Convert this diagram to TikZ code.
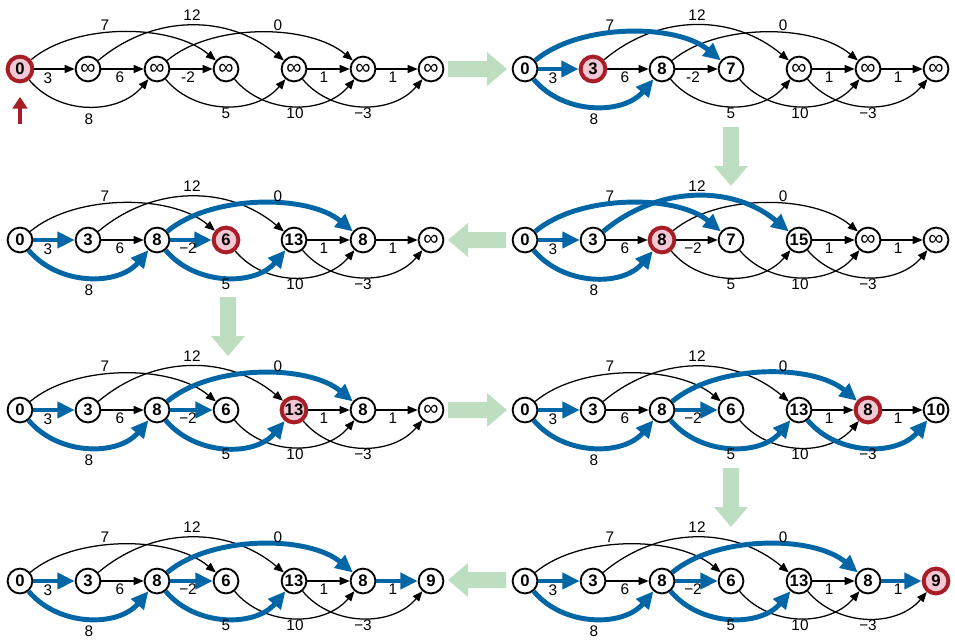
\documentclass[tikz,border=0pt]{standalone}
\usepackage{fontspec}
\setmainfont{Liberation Sans}
\usetikzlibrary{arrows.meta}
\definecolor{eblue}{RGB}{0,102,166}
\definecolor{hred}{RGB}{168,30,38}
\definecolor{hpink}{RGB}{242,200,212}
\definecolor{garrow}{RGB}{190,222,194}
\tikzset{
  nd/.style={circle, draw=black, line width=1.4pt, fill=white, minimum size=18.6pt, inner sep=0pt,
    font=\fontsize{12.5}{13}\selectfont\bfseries},
  hl/.style={draw=hred, fill=hpink, line width=3pt},
  lbl/.style={font=\fontsize{11.5}{12}\selectfont, inner sep=0pt},
  blackedge/.style={draw=black, line width=0.95pt, -{Triangle[length=7.5pt,width=6pt]}},
  blueedge/.style={draw=eblue, line width=3.7pt, -{Triangle[length=13pt,width=12pt]}},
  plain/.style={},
  gar/.style={fill=garrow, draw=none},
  redarrow/.style={draw=hred, line width=3pt, -{Triangle[length=9pt,width=11pt]}, shorten >=10pt},
}
\newcommand\infy{{\mdseries\fontsize{16}{16}\selectfont ∞}}
\newcommand\edgepass[2]{%
  \path[#2,#1e01/.try] (#1n0) -- (#1n1);
  \path[#2,#1e12/.try] (#1n1) -- (#1n2);
  \path[#2,#1e23/.try] (#1n2) -- (#1n3);
  \path[#2,#1e45/.try] (#1n4) -- (#1n5);
  \path[#2,#1e56/.try] (#1n5) -- (#1n6);
  \path[#2,#1e03/.try] (#1n0) to[out=40,in=140,looseness=0.8] (#1n3);
  \path[#2,#1e14/.try] (#1n1) to[out=40,in=140] (#1n4);
  \path[#2,#1e25/.try] (#1n2) to[out=40,in=140,looseness=0.8] (#1n5);
  \path[#2,#1e02/.try] (#1n0) to[out=-50,in=-130] (#1n2);
  \path[#2,#1e24/.try] (#1n2) to[out=-50,in=-130] (#1n4);
  \path[#2,#1e35/.try] (#1n3) to[out=-50,in=-130] (#1n5);
  \path[#2,#1e46/.try] (#1n4) to[out=-50,in=-130] (#1n6);
}
\newcommand\mtwo{-2}
\newcommand\graphpanel[9]{%
  \begin{scope}[shift={(#2)}]
    \node[nd,#1n0/.try] (#1n0) at (0,0) {#3};
    \node[nd,#1n1/.try] (#1n1) at (68,0) {#4};
    \node[nd,#1n2/.try] (#1n2) at (137,0) {#5};
    \node[nd,#1n3/.try] (#1n3) at (206,0) {#6};
    \node[nd,#1n4/.try] (#1n4) at (274,0) {#7};
    \node[nd,#1n5/.try] (#1n5) at (343,0) {#8};
    \node[nd,#1n6/.try] (#1n6) at (411,0) {#9};
    \tikzset{isblue/.style={draw=none}}
    \edgepass{#1}{blackedge}
    \tikzset{isblue/.style={blueedge}}
    \edgepass{#1}{plain}
    \node[lbl] (#1L01) at (28,-9) {3};
    \node[lbl] (#1L12) at (100,-8) {6};
    \node[lbl] (#1L23) at (168,-8) {\mtwo};
    \node[lbl] (#1L45) at (304,-8) {1};
    \node[lbl] (#1L56) at (373,-8) {1};
    \node[lbl] (#1L03) at (85,44) {7};
    \node[lbl] (#1L14) at (172,54) {12};
    \node[lbl] (#1L25) at (258,44) {0};
    \node[lbl] (#1L02) at (69,-50) {8};
    \node[lbl] (#1L24) at (206,-44) {5};
    \node[lbl] (#1L35) at (275,-44) {10};
    \node[lbl] (#1L46) at (343,-44) {−3};
  \end{scope}}
\begin{document}
\begin{tikzpicture}[x=0.75pt,y=0.75pt]
\useasboundingbox (0,0) rectangle (955,-639);
% green block arrows
\fill[gar] (448,-61) -- (487,-61) -- (487,-52) -- (507,-69) -- (487,-86) -- (487,-77) -- (448,-77) -- cycle;
\fill[gar] (723,-127) -- (723,-166) -- (714,-166) -- (731,-186) -- (748,-166) -- (739,-166) -- (739,-127) -- cycle;
\fill[gar] (506,-232) -- (468,-232) -- (468,-223) -- (448,-240) -- (468,-257) -- (468,-248) -- (506,-248) -- cycle;
\fill[gar] (220,-297) -- (220,-336) -- (211,-336) -- (228,-356) -- (245,-336) -- (236,-336) -- (236,-297) -- cycle;
\fill[gar] (448,-402) -- (487,-402) -- (487,-393) -- (507,-410) -- (487,-427) -- (487,-418) -- (448,-418) -- cycle;
\fill[gar] (723,-468) -- (723,-507) -- (714,-507) -- (731,-527) -- (748,-507) -- (739,-507) -- (739,-468) -- cycle;
\fill[gar] (506,-572) -- (468,-572) -- (468,-563) -- (448,-580) -- (468,-597) -- (468,-588) -- (506,-588) -- cycle;
% panel 1
\tikzset{Pan0/.style=hl}
\graphpanel{Pa}{20,-69}{0}{\infy}{\infy}{\infy}{\infy}{\infy}{\infy}
\coordinate (redstart) at (20,-124);
\draw[redarrow] (redstart) -- (Pan0);
% panel 2
\tikzset{Pbn1/.style=hl, Pbe01/.style=isblue, Pbe02/.style=isblue, Pbe03/.style=isblue}
\graphpanel{Pb}{525,-69}{0}{3}{8}{7}{\infy}{\infy}{\infy}
\renewcommand\mtwo{−2}
% panel 3
\tikzset{Pcn2/.style=hl, Pce01/.style=isblue, Pce02/.style=isblue, Pce03/.style=isblue, Pce14/.style=isblue}
\graphpanel{Pc}{525,-240}{0}{3}{8}{7}{15}{\infy}{\infy}
% panel 4
\tikzset{Pdn3/.style=hl, Pde01/.style=isblue, Pde02/.style=isblue, Pde23/.style=isblue, Pde24/.style=isblue, Pde25/.style=isblue}
\graphpanel{Pd}{20,-240}{0}{3}{8}{6}{13}{8}{\infy}
% panel 5
\tikzset{Pen4/.style=hl, Pee01/.style=isblue, Pee02/.style=isblue, Pee23/.style=isblue, Pee24/.style=isblue, Pee25/.style=isblue}
\graphpanel{Pe}{20,-410}{0}{3}{8}{6}{13}{8}{\infy}
% panel 6
\tikzset{Pfn5/.style=hl, Pfe01/.style=isblue, Pfe02/.style=isblue, Pfe23/.style=isblue, Pfe24/.style=isblue, Pfe25/.style=isblue, Pfe46/.style=isblue}
\graphpanel{Pf}{525,-410}{0}{3}{8}{6}{13}{8}{10}
% panel 7
\tikzset{Pgn6/.style=hl, Pge01/.style=isblue, Pge02/.style=isblue, Pge23/.style=isblue, Pge24/.style=isblue, Pge25/.style=isblue, Pge56/.style=isblue}
\graphpanel{Pg}{525,-581}{0}{3}{8}{6}{13}{8}{9}
% panel 8
\tikzset{Phe01/.style=isblue, Phe02/.style=isblue, Phe23/.style=isblue, Phe24/.style=isblue, Phe25/.style=isblue, Phe56/.style=isblue}
\graphpanel{Ph}{20,-581}{0}{3}{8}{6}{13}{8}{9}
\end{tikzpicture}
\end{document}
